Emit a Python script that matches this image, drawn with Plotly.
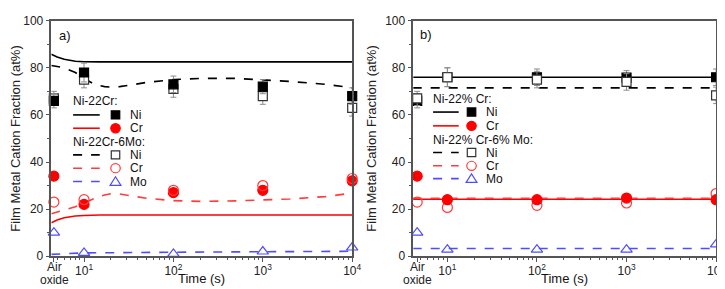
import plotly.graph_objects as go

W, H = 725, 289

# ---------------- data ----------------
AIR_X = 4.6  # position used for the "Air oxide" category on the log axis
times = [AIR_X, 10, 100, 1000, 10000]
tick_vals = [AIR_X, 10, 100, 1000, 10000]
tick_text = ["", "10<sup>1</sup>", "10<sup>2</sup>", "10<sup>3</sup>", "10<sup>4</sup>"]
air_label = ["Air", "oxide"]

# Panel a) measured points
a_ni_22cr = [66, 78, 73, 72, 68]
a_ni_22cr_err = [3, 4, 3.5, 3, 3.5]
a_cr_22cr = [34, 22, 27, 28, 32]
a_ni_6mo = [67, 75, 71, 68, 63]
a_ni_6mo_err = [3, 3.5, 3.5, 3.5, 3.5]
a_cr_6mo = [23, 24, 28, 30, 33]
a_mo_6mo = [10, 1.4, 1.0, 2.0, 3.7]

# Panel a) model curves
a_curve_ni_22cr_x = [4.3, 5, 6, 7, 8, 10, 15, 100, 1000, 10000]
a_curve_ni_22cr_y = [85.8, 84.6, 83.6, 83.1, 82.8, 82.6, 82.5, 82.5, 82.5, 82.5]
a_curve_cr_22cr_x = [4.3, 5, 6, 7, 8, 10, 15, 100, 1000, 10000]
a_curve_cr_22cr_y = [14.2, 15.4, 16.3, 16.8, 17.1, 17.3, 17.5, 17.5, 17.5, 17.5]
a_curve_ni_6mo_x = [4.3, 6, 8, 10, 13, 17, 20, 25, 35, 50, 100, 200, 500, 1000, 2000, 5000, 10000]
a_curve_ni_6mo_y = [81, 80, 78, 75.5, 73, 72, 71.8, 72, 72.8, 73.8, 75, 75.5, 75.5, 75, 74.2, 73, 71.5]
a_curve_cr_6mo_x = [4.3, 6, 8, 10, 13, 17, 20, 25, 35, 50, 100, 200, 500, 1000, 2000, 5000, 10000]
a_curve_cr_6mo_y = [18, 19.5, 21, 22.5, 24.5, 26, 26.5, 26.4, 25.6, 24.6, 23.6, 23.3, 23.5, 23.8, 24.3, 25.3, 26.8]
a_curve_mo_6mo_x = [4.3, 10, 100, 1000, 10000]
a_curve_mo_6mo_y = [0.8, 1.4, 1.7, 1.9, 2.1]

# Panel b) measured points
b_ni_22cr = [66, 76, 76, 75.8, 76]
b_ni_22cr_err = [3, 4, 3.5, 3, 3.5]
b_cr_22cr = [34, 24, 24, 24.7, 24]
b_ni_6mo = [67, 76, 75, 74, 68.3]
b_ni_6mo_err = [3, 4, 3.5, 3.5, 3.5]
b_cr_6mo = [23, 20.7, 21.6, 22.6, 26.6]
b_mo_6mo = [10, 2.8, 2.8, 2.8, 5]

# Panel b) model lines
b_line_x = [4.1, 10000]
b_line_ni_22cr = [76, 76]
b_line_cr_22cr = [24.2, 24.2]
b_line_ni_6mo = [71.5, 71.5]
b_line_cr_6mo = [24.6, 24.6]
b_line_mo_6mo = [3.3, 3.3]

BLACK = "#000000"
RED = "#ff0000"
RED_L = "#ff3b3b"
BLUE = "#4d4dff"
AXIS = "#555555"
FONT = "Liberation Sans, Arial, sans-serif"

fig = go.Figure()


def add_panel(xa, ya, curves, points):
    for x, y, color, dash, width in curves:
        fig.add_trace(go.Scatter(x=x, y=y, mode="lines", xaxis=xa, yaxis=ya,
                                 line=dict(color=color, dash=dash, width=width),
                                 showlegend=False, hoverinfo="skip"))
    for y, err, sym, fill, lcolor, size in points:
        fig.add_trace(go.Scatter(
            x=times, y=y, mode="markers", xaxis=xa, yaxis=ya, cliponaxis=False,
            marker=dict(symbol=sym, size=size, color=fill,
                        line=dict(color=lcolor, width=1.2)),
            error_y=(dict(type="data", array=err, color="#8c8c8c", thickness=1, width=3)
                     if err is not None else None),
            showlegend=False))


add_panel("x", "y",
          [(a_curve_ni_22cr_x, a_curve_ni_22cr_y, BLACK, "solid", 1.6),
           (a_curve_cr_22cr_x, a_curve_cr_22cr_y, RED, "solid", 1.6),
           (a_curve_ni_6mo_x, a_curve_ni_6mo_y, BLACK, "dash", 1.6),
           (a_curve_cr_6mo_x, a_curve_cr_6mo_y, RED_L, "dash", 1.6),
           (a_curve_mo_6mo_x, a_curve_mo_6mo_y, BLUE, "dash", 1.6)],
          [(a_ni_6mo, a_ni_6mo_err, "square", "white", "#333333", 9),
           (a_ni_22cr, a_ni_22cr_err, "square", BLACK, BLACK, 9),
           (a_cr_22cr, None, "circle", RED, RED, 10),
           (a_cr_6mo, None, "circle-open", RED_L, RED_L, 10),
           (a_mo_6mo, None, "triangle-up-open", BLUE, BLUE, 10)])

add_panel("x2", "y2",
          [(b_line_x, b_line_ni_22cr, BLACK, "solid", 1.6),
           (b_line_x, b_line_ni_6mo, BLACK, "dash", 1.6),
           (b_line_x, b_line_cr_22cr, RED, "solid", 1.6),
           (b_line_x, b_line_cr_6mo, RED_L, "dash", 1.6),
           (b_line_x, b_line_mo_6mo, BLUE, "dash", 1.6)],
          [(b_ni_22cr, b_ni_22cr_err, "square", BLACK, BLACK, 9),
           (b_ni_6mo, b_ni_6mo_err, "square", "white", "#333333", 9),
           (b_cr_6mo, None, "circle-open", RED_L, RED_L, 10),
           (b_cr_22cr, None, "circle", RED, RED, 10),
           (b_mo_6mo, None, "triangle-up-open", BLUE, BLUE, 10)])


def px(x):
    return x / W


def py(y):
    return 1 - y / H


ydom = [py(253.5), py(6)]
xaxis_common = dict(type="log", tickmode="array", tickvals=tick_vals, ticktext=tick_text,
                    ticks="outside", ticklen=4, tickwidth=1.2, tickcolor=AXIS,
                    ticklabeloverflow="allow", ticklabelstandoff=-1,
                    showline=True, linecolor=AXIS, linewidth=1.5, mirror=True,
                    showgrid=False, zeroline=False,
                    tickfont=dict(family=FONT, size=12, color="#222"),
                    minor=dict(tickmode="array",
                               tickvals=[5, 6, 7, 8, 9, 20, 30, 40, 50, 60, 70, 80, 90,
                                         200, 300, 400, 500, 600, 700, 800, 900,
                                         2000, 3000, 4000, 5000, 6000, 7000, 8000, 9000],
                               ticks="outside", ticklen=2.5, tickcolor=AXIS, showgrid=False))
yaxis_common = dict(range=[0, 100], tickmode="linear", tick0=0, dtick=20,
                    ticks="outside", ticklen=4, tickwidth=1.2, tickcolor=AXIS,
                    ticklabeloverflow="allow",
                    showline=True, linecolor=AXIS, linewidth=1.5, mirror=True,
                    showgrid=False, zeroline=False,
                    tickfont=dict(family=FONT, size=12, color="#222"),
                    minor=dict(dtick=10, ticks="outside", ticklen=2.5, tickcolor=AXIS, showgrid=False),
                    title=dict(text="Film Metal Cation Fraction (at%)",
                               font=dict(family=FONT, size=13, color="#222"), standoff=6))

fig.update_layout(
    width=W, height=H, margin=dict(l=0, r=0, t=0, b=0),
    paper_bgcolor="white", plot_bgcolor="white", showlegend=False,
    xaxis=dict(xaxis_common, domain=[px(43), px(348)], range=[0.635, 4.0], anchor="y"),
    yaxis=dict(yaxis_common, domain=ydom, anchor="x"),
    xaxis2=dict(xaxis_common, domain=[px(410), px(717)], range=[0.62, 4.0], anchor="y2"),
    yaxis2=dict(yaxis_common, domain=ydom, anchor="x2"),
)

shapes = []
annotations = []


def txt(x, y, s, size=12, anchor="left", color="#111"):
    annotations.append(dict(x=px(x), y=py(y), xref="paper", yref="paper", text=s,
                            showarrow=False, xanchor=anchor, yanchor="middle",
                            font=dict(family=FONT, size=size, color=color)))


def seg(x0, x1, y, color, dash):
    shapes.append(dict(type="line", xref="paper", yref="paper", x0=px(x0), x1=px(x1),
                       y0=py(y), y1=py(y), line=dict(color=color, width=1.6, dash=dash)))


def mark(x, y, kind, color, filled):
    r = 4.3 if kind == "sq" else 4.8
    fill = color if filled else "rgba(0,0,0,0)"
    if kind == "sq":
        shapes.append(dict(type="rect", xref="paper", yref="paper",
                           x0=px(x - r), x1=px(x + r), y0=py(y + r), y1=py(y - r),
                           fillcolor=fill, line=dict(color=color, width=1.2)))
    elif kind == "ci":
        shapes.append(dict(type="circle", xref="paper", yref="paper",
                           x0=px(x - r), x1=px(x + r), y0=py(y + r), y1=py(y - r),
                           fillcolor=fill, line=dict(color=color, width=1.2)))
    else:
        path = "M {},{} L {},{} L {},{} Z".format(px(x), py(y - 5), px(x - 5.5), py(y + 4),
                                                 px(x + 5.5), py(y + 4))
        shapes.append(dict(type="path", xref="paper", yref="paper", path=path,
                           fillcolor=fill, line=dict(color=color, width=1.2)))


def legend(x0, lx0, lx1, mx, tx, rows, h1, h2):
    y_h1, y_ni1, y_cr1, y_h2, y_ni2, y_cr2, y_mo2 = rows
    txt(x0, y_h1, h1)
    seg(lx0, lx1, y_ni1, BLACK, "solid"); mark(mx, y_ni1, "sq", BLACK, True); txt(tx, y_ni1, "Ni")
    seg(lx0, lx1, y_cr1, RED, "solid"); mark(mx, y_cr1, "ci", RED, True); txt(tx, y_cr1, "Cr")
    txt(x0, y_h2, h2)
    seg(lx0, lx1, y_ni2, BLACK, "dash"); mark(mx, y_ni2, "sq", "#333333", False); txt(tx, y_ni2, "Ni")
    seg(lx0, lx1, y_cr2, RED_L, "dash"); mark(mx, y_cr2, "ci", RED_L, False); txt(tx, y_cr2, "Cr")
    seg(lx0, lx1, y_mo2, BLUE, "dash"); mark(mx, y_mo2, "tr", BLUE, False); txt(tx, y_mo2, "Mo")


legend(63, 65, 92, 108, 121, [90, 105, 119, 133, 147, 161, 175], "Ni-22Cr:", "Ni-22Cr-6Mo:")
legend(428, 430, 456, 469, 482, [88, 102, 116.5, 131, 144.5, 158.5, 172], "Ni-22% Cr:", "Ni-22% Cr-6% Mo:")

# "Air oxide" category label under each panel's first tick
txt(46, 265, air_label[0], anchor="center", color="#222")
txt(46, 278, air_label[1], anchor="center", color="#222")
txt(414, 265, air_label[0], anchor="center", color="#222")
txt(414, 278, air_label[1], anchor="center", color="#222")

txt(49, 22, "a)", size=13)
txt(415, 21, "b)", size=13)
txt(195.5, 277, "Time (s)", size=13, anchor="center")
txt(563.5, 277, "Time (s)", size=13, anchor="center")

fig.update_layout(shapes=shapes, annotations=annotations)
fig.write_html("out.html")
